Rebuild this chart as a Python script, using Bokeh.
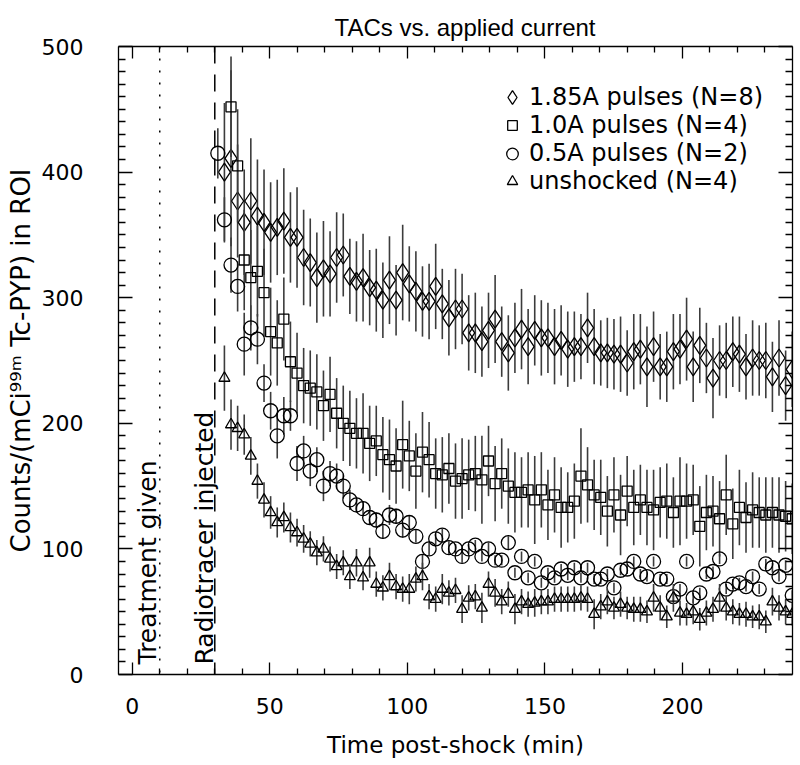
from math import pi
from bokeh.plotting import figure
from bokeh.models import (ColumnDataSource, Span, Label, Legend, LegendItem,
                          LinearAxis, Range1d, FixedTicker)
from bokeh.embed import file_html
from bokeh.resources import INLINE

FONT = "DejaVu Sans"

# ---------------- data ----------------
time_min = [31.1, 33.5, 35.9, 38.3, 40.7, 43.1, 45.5, 47.9, 50.3, 52.7,
            55.1, 57.5, 59.9, 62.3, 64.7, 67.1, 69.5, 71.9, 74.3, 76.7,
            79.1, 81.5, 83.9, 86.3, 88.7, 91.1, 93.5, 95.9, 98.3, 100.7,
            103.1, 105.5, 107.9, 110.3, 112.7, 115.1, 117.5, 119.9, 122.3, 124.7,
            127.1, 129.5, 131.9, 134.3, 136.7, 139.1, 141.5, 143.9, 146.3, 148.7,
            151.1, 153.5, 155.9, 158.3, 160.7, 163.1, 165.5, 167.9, 170.3, 172.7,
            175.1, 177.5, 179.9, 182.3, 184.7, 187.1, 189.5, 191.9, 194.3, 196.7,
            199.1, 201.5, 203.9, 206.3, 208.7, 211.1, 213.5, 215.9, 218.3, 220.7,
            223.1, 225.5, 227.9, 230.3, 232.7, 235.1, 237.5, 239.9]

# 1.85 A pulses (N=8): frames 1..87
a185_val = [400, 411, 377, 360, 377, 365, 360, 352, 356, 361, 348, 348, 332, 328, 316, 323, 319, 332, 334,
            317, 313, 316, 308, 306, 298, 314, 298, 320, 311, 305, 297, 297, 309, 295, 284, 291, 291, 272, 272,
            265, 274, 283, 265, 256, 268, 275, 261, 274, 268, 268, 261, 266, 259, 261, 261, 276, 261,
            256, 256, 255, 255, 248, 257, 259, 245, 261, 245, 245, 257, 259, 267, 245, 262, 252, 236, 250, 250,
            257, 255, 245, 252, 250, 250, 237, 252, 230, 243]
a185_err = [55, 70, 45, 42, 50, 45, 42, 40, 38, 42, 36, 40, 38, 35, 36, 38, 34, 36, 33,
            30, 32, 35, 30, 33, 30, 35, 28, 38, 30, 32, 28, 30, 34, 28, 30, 32, 28, 30, 32,
            28, 30, 35, 28, 30, 28, 32, 30, 28, 30, 28, 30, 28, 30, 28, 26, 28, 30,
            26, 28, 28, 30, 26, 30, 28, 32, 28, 26, 28, 30, 28, 33, 28, 30, 28, 32, 28, 30,
            28, 30, 26, 30, 28, 30, 28, 30, 28, 30]

# 1.0 A pulses (N=4): frames 2..87
a10_val = [452, 405, 330, 316, 321, 304, 273, 264, 283, 249, 240, 230, 228, 225, 214, 223, 208, 200,
           196, 192, 192, 184, 186, 175, 171, 166, 183, 174, 162, 177, 171, 160, 159, 164, 154, 156, 159, 160,
           155, 170, 152, 160, 150, 145, 145, 147, 139, 147, 135, 143, 133, 133, 138, 158, 151, 143, 141, 130,
           143, 127, 146, 133, 139, 133, 131, 137, 138, 129, 138, 138, 139, 118, 129, 130, 124, 143, 120, 133,
           125, 131, 129, 127, 129, 127, 126, 124]
a10_err = [40, 45, 40, 38, 36, 35, 35, 34, 33, 32, 32, 30, 30, 30, 28, 30, 28, 30,
           30, 28, 32, 30, 28, 30, 32, 30, 35, 28, 30, 32, 30, 28, 30, 28, 30, 32, 28, 30,
           35, 28, 30, 28, 30, 32, 28, 30, 35, 30, 28, 30, 32, 28, 30, 38, 30, 28, 30, 28,
           30, 32, 28, 30, 28, 30, 32, 28, 30, 28, 35, 30, 28, 32, 30, 28, 30, 32, 28, 30,
           28, 30, 28, 30, 28, 30, 28, 28]

# 0.5 A pulses (N=2): frames 0..87
a05_val = [415, 362, 326, 309, 263, 276, 267, 232, 210, 190, 206, 206, 168, 178, 162, 171, 150, 160, 158, 150,
           139, 135, 132, 125, 123, 114, 127, 126, 115, 121,
           110, 90, 100, 108, 111, 101, 100, 94, 100, 103, 94, 100, 91, 91, 105, 81, 94, 77, 90, 73,
           81, 77, 84, 79, 85, 77, 85, 76,
           76, 80, 69, 83, 84, 90, 80, 78, 90, 76, 76, 62, 68, 90, 61, 65, 80, 82, 92, 68,
           72, 73, 70, 78, 68, 88, 85, 78, 87, 63]
a05_err = [20, 18, 22, 20, 25, 18, 20, 15, 15, 18, 15, 12, 14, 12, 12, 10, 12, 10, 10, 10,
           8, 6, 6, 6, 6, 6, 8, 6, 6, 6,
           5, 6, 5, 5, 5, 5, 4, 5, 4, 4, 4, 5, 4, 4, 5, 4, 4, 4, 4, 4,
           4, 4, 4, 4, 4, 4, 4, 4,
           4, 4, 4, 4, 4, 4, 4, 4, 4, 4, 4, 4, 4, 4, 4, 4, 4, 4, 4, 4,
           4, 4, 4, 4, 4, 4, 4, 4, 4, 4]

# unshocked (N=4): frames 1..87
uns_val = [236, 199, 196, 191, 174, 154, 139, 129, 121, 125, 117, 113, 108, 104, 97, 100, 92, 86, 89,
           78, 89, 77, 89, 72, 69, 78, 70, 68, 68, 76, 78, 62, 60, 68, 65, 67, 52, 61, 62,
           53, 72, 65, 58, 64, 52, 58, 56, 57, 58, 58, 60, 60, 60, 60, 61, 60, 48,
           54, 58, 53, 56, 53, 52, 52, 50, 61, 53, 46, 61, 49, 48, 50, 44, 49, 52, 61, 53,
           50, 48, 48, 46, 46, 42, 58, 53, 50, 48]
uns_err = [26, 20, 18, 16, 15, 14, 14, 13, 12, 12, 12, 11, 11, 10, 10, 10, 10, 10, 10,
           10, 11, 10, 12, 10, 10, 11, 10, 10, 12, 10, 11, 10, 10, 12, 10, 10, 11, 10, 10,
           12, 10, 11, 10, 10, 12, 10, 10, 11, 10, 10, 10, 10, 10, 10, 10, 10, 12,
           10, 10, 9, 10, 9, 10, 10, 9, 11, 10, 9, 11, 10, 9, 10, 9, 10, 10, 11, 10,
           10, 9, 10, 9, 10, 9, 11, 10, 10, 9]

series_labels = ["1.85A pulses (N=8)", "1.0A pulses (N=4)", "0.5A pulses (N=2)", "unshocked (N=4)"]
treatment_time = 10
injection_time = 30
title_text = "TACs vs. applied current"
x_label = "Time post-shock (min)"
y_label = "Counts/(mCi\u2079\u2079\u1d50 Tc-PYP) in ROI"
x_major = [0, 50, 100, 150, 200]
y_major = [0, 100, 200, 300, 400, 500]

assert len(a185_val) == len(a185_err) == len(time_min) - 1
assert len(a10_val) == len(a10_err) == len(time_min) - 2
assert len(a05_val) == len(a05_err) == len(time_min)
assert len(uns_val) == len(uns_err) == len(time_min) - 1

# ---------------- figure ----------------
p = figure(width=797, height=764, x_range=Range1d(-5, 240), y_range=Range1d(0, 500),
           output_backend="svg", toolbar_location=None,
           min_border_left=118, min_border_right=5, min_border_top=46, min_border_bottom=90,
           title=title_text)
p.grid.visible = False
p.outline_line_color = None
p.background_fill_color = "white"
p.border_fill_color = "white"

p.title.text_font = "Liberation Sans"
p.title.text_font_size = "24px"
p.title.text_font_style = "normal"
p.title.text_color = "black"
p.title.align = "left"
p.title.offset = 216
p.title.vertical_align = "top"
p.title.standoff = 8

x_minor = [m for m in range(10, 240, 10) if m % 50 != 0]
y_minor = [m for m in range(10, 500, 10) if m % 100 != 0]


def style_axis(ax, ticks, minor, tin, tmin, show_labels):
    ax.ticker = FixedTicker(ticks=ticks, minor_ticks=minor)
    ax.major_tick_in = tin
    ax.major_tick_out = 0
    ax.minor_tick_in = tmin
    ax.minor_tick_out = 0
    for attr in ("axis_line", "major_tick_line", "minor_tick_line"):
        setattr(ax, attr + "_color", "black")
        setattr(ax, attr + "_width", 1.3)
    if show_labels:
        ax.major_label_text_font = FONT
        ax.major_label_text_font_size = "22px"
        ax.major_label_text_color = "black"
        ax.axis_label_text_font = FONT
        ax.axis_label_text_font_style = "normal"
        ax.axis_label_text_color = "black"
    else:
        ax.major_label_text_font_size = "1px"
        ax.major_label_text_color = None
        ax.major_label_standoff = 0


xa = p.xaxis[0]
ya = p.yaxis[0]
style_axis(xa, x_major, x_minor, 12, 6, True)
style_axis(ya, y_major, y_minor, 14, 7, True)
xa.axis_label = x_label
ya.axis_label = y_label
xa.axis_label_text_font_size = "23px"
ya.axis_label_text_font_size = "26px"
xa.major_label_standoff = 23
xa.axis_label_standoff = 15
ya.major_label_standoff = 35
ya.axis_label_standoff = 3

top = LinearAxis()
right = LinearAxis()
style_axis(top, x_major, x_minor, 12, 6, False)
style_axis(right, y_major, y_minor, 14, 7, False)
p.add_layout(top, "above")
p.add_layout(right, "right")

# event lines
p.add_layout(Span(location=treatment_time, dimension="height", line_color="black",
                  line_width=1.5, line_dash="2 10"))
p.add_layout(Span(location=injection_time, dimension="height", line_color="black",
                  line_width=1.5, line_dash="17 11"))
p.add_layout(Label(x=5.5, y=8, text="Treatment given", angle=pi / 2, text_align="left",
                   text_baseline="middle", text_font=FONT, text_font_size="25px", text_color="black"))
p.add_layout(Label(x=26.2, y=8, text="Radiotracer injected", angle=pi / 2, text_align="left",
                   text_baseline="middle", text_font=FONT, text_font_size="25px", text_color="black"))

# series
specs = [
    (time_min[1:], a185_val, a185_err, "diamond", 18),
    (time_min[2:], a10_val, a10_err, "square", 10),
    (time_min[0:], a05_val, a05_err, "circle", 14),
    (time_min[1:], uns_val, uns_err, "triangle", 11),
]
renderers = []
for t, v, e, marker, size in specs:
    src = ColumnDataSource(dict(t=t, v=v,
                                lo=[a - b for a, b in zip(v, e)],
                                hi=[a + b for a, b in zip(v, e)]))
    p.segment(x0="t", y0="lo", x1="t", y1="hi", source=src, line_color="#3c3c3c", line_width=1.6)
    r = p.scatter(x="t", y="v", source=src, marker=marker, size=size, fill_alpha=0,
                  line_color="black", line_width=1.3)
    renderers.append(r)

# legend: one single-entry legend per row (rows 28 px apart)
legend_rows_bottom = [560, 532, 504, 476]
legend_glyph_h = [34, 24, 29, 26]
for lab, r, vy, gh in zip(series_labels, renderers, legend_rows_bottom, legend_glyph_h):
    lg = Legend(items=[LegendItem(label=lab, renderers=[r])],
                location=(377, vy + (34 - max(gh, 28)) / 2), padding=0, margin=0, spacing=0,
                border_line_color=None, background_fill_alpha=0,
                glyph_width=34, glyph_height=gh, label_height=28, label_standoff=0,
                label_text_font=FONT, label_text_font_size="24px", label_text_color="black")
    p.add_layout(lg)

open("out.html", "w").write(file_html(p, INLINE))
